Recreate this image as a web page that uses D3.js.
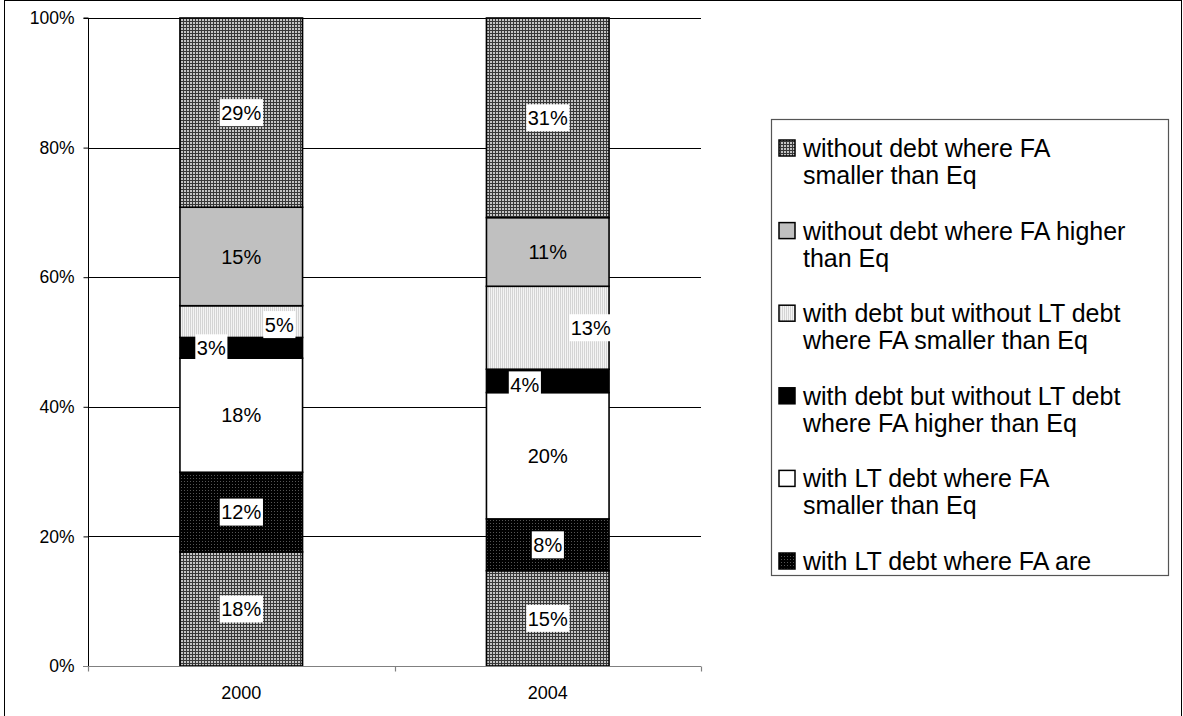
<!DOCTYPE html>
<html>
<head>
<meta charset="utf-8">
<script src="https://cdn.jsdelivr.net/npm/d3@7"></script>
<style>
  html, body { margin: 0; padding: 0; background: #fff; }
  svg { display: block; font-family: "Liberation Sans", Arial, sans-serif; }
</style>
</head>
<body>
<svg id="chart" width="1183" height="716"></svg>
<script>
// ---------------- data ----------------
const years = ["2000", "2004"];
// series from bottom of the stack to the top
const seriesKeys = ["s1", "s2", "s3", "s4", "s5", "s6", "s7"];
const seriesNames = [
  "other firms",
  "with LT debt where FA are higher than Eq",
  "with LT debt where FA smaller than Eq",
  "with debt but without LT debt where FA higher than Eq",
  "with debt but without LT debt where FA smaller than Eq",
  "without debt where FA higher than Eq",
  "without debt where FA smaller than Eq"
];
const legendLines = [
  ["other", "firms"],
  ["with LT debt where FA are", "higher than Eq"],
  ["with LT debt where FA", "smaller than Eq"],
  ["with debt but without LT debt", "where FA higher than Eq"],
  ["with debt but without LT debt", "where FA smaller than Eq"],
  ["without debt where FA higher", "than Eq"],
  ["without debt where FA", "smaller than Eq"]
];
const values2000 = [0.176, 0.123, 0.176, 0.032, 0.049, 0.152, 0.292];
const values2004 = [0.147, 0.080, 0.195, 0.036, 0.128, 0.106, 0.308];
const yTicks = [0, 0.2, 0.4, 0.6, 0.8, 1.0];

// ---------------- layout / style ----------------
const W = 1183, H = 716;
const plot = { left: 88, right: 701, top: 18, bottom: 666 };
const fills = ["url(#pCheck)", "url(#pBlackDot)", "#ffffff", "#000000", "url(#pLightDot)", "#c0c0c0", "url(#pCheck)"];
const labelBox = [true, true, true, true, true, false, true];
// manual label nudges (px) per series
const labelDx = { s4: [-30, -23], s5: [38, 43] };
const labelDy = { s4: [0, 4], s5: [3, 0] };

const svg = d3.select("#chart");

// patterns
const defs = svg.append("defs");
const pc = defs.append("pattern").attr("id", "pCheck").attr("patternUnits", "userSpaceOnUse")
  .attr("width", 3).attr("height", 3);
pc.append("rect").attr("width", 3).attr("height", 3).attr("fill", "#c4c4c4");
pc.append("rect").attr("width", 1).attr("height", 3).attr("fill", "#383838");
pc.append("rect").attr("width", 3).attr("height", 1).attr("fill", "#383838");

const pb = defs.append("pattern").attr("id", "pBlackDot").attr("patternUnits", "userSpaceOnUse")
  .attr("width", 3).attr("height", 3);
pb.append("rect").attr("width", 3).attr("height", 3).attr("fill", "#000");
pb.append("rect").attr("x", 1).attr("y", 1).attr("width", 1).attr("height", 1).attr("fill", "#555");

const pl = defs.append("pattern").attr("id", "pLightDot").attr("patternUnits", "userSpaceOnUse")
  .attr("width", 2).attr("height", 2);
pl.append("rect").attr("width", 2).attr("height", 2).attr("fill", "#f4f4f4");
pl.append("rect").attr("width", 1).attr("height", 2).attr("fill", "#d4d4d4");

// outer frame
svg.append("rect").attr("x", 4.5).attr("y", 0.5).attr("width", 1177).attr("height", 717)
  .attr("fill", "none").attr("stroke", "#000").attr("stroke-width", 1);

// scales
const x = d3.scaleBand().domain(years).range([plot.left, plot.right])
  .paddingInner(0.6).paddingOuter(0.3);
const y = d3.scaleLinear().domain([0, 1]).range([plot.bottom, plot.top]);

// table
const table = years.map((yr, i) => {
  const row = { year: yr };
  const vals = i === 0 ? values2000 : values2004;
  seriesKeys.forEach((k, j) => row[k] = vals[j]);
  return row;
});
const stacked = d3.stack().keys(seriesKeys).offset(d3.stackOffsetExpand)(table);

// gridlines
svg.append("g").selectAll("line").data(yTicks.filter(t => t > 0)).join("line")
  .attr("x1", plot.left).attr("x2", plot.right)
  .attr("y1", d => Math.round(y(d)) + 0.5).attr("y2", d => Math.round(y(d)) + 0.5)
  .attr("stroke", "#000").attr("stroke-width", 1);

// bars
const gBars = svg.append("g");
stacked.forEach((s, si) => {
  gBars.append("g").selectAll("rect").data(s).join("rect")
    .attr("x", d => x(d.data.year))
    .attr("width", x.bandwidth())
    .attr("y", d => y(d[1]))
    .attr("height", d => y(d[0]) - y(d[1]))
    .attr("fill", fills[si])
    .attr("stroke", "#000").attr("stroke-width", 1.6);
});

// y axis
const yAxis = d3.axisLeft(y).tickValues(yTicks).tickFormat(d3.format(".0%")).tickSize(5).tickPadding(9);
const gy = svg.append("g").attr("transform", `translate(${plot.left + 0.5},0)`).call(yAxis);
gy.select(".domain").attr("stroke", "#000").attr("d", `M-5,${y(1)}H0V${y(0)}`);
gy.selectAll(".tick line").attr("stroke", "#000");
gy.selectAll(".tick text").attr("font-size", 17.5).attr("fill", "#000")
  .attr("font-family", "'Liberation Sans', Arial, sans-serif");

// x axis
const gx = svg.append("g").attr("transform", `translate(0,${plot.bottom + 0.5})`);
gx.append("line").attr("x1", plot.left - 5).attr("x2", plot.right).attr("y1", 0).attr("y2", 0)
  .attr("stroke", "#808080").attr("stroke-width", 1.2);
const bounds = [plot.left, (x(years[0]) + x.bandwidth() + x(years[1])) / 2, plot.right];
gx.selectAll("line.tk").data(bounds).join("line").attr("class", "tk")
  .attr("x1", d => Math.round(d) + 0.5).attr("x2", d => Math.round(d) + 0.5)
  .attr("y1", 0).attr("y2", 5).attr("stroke", "#808080").attr("stroke-width", 1.2);
const xAxis = d3.axisBottom(x).tickSize(0).tickPadding(20);
const gxl = svg.append("g").attr("transform", `translate(0,${plot.bottom})`).call(xAxis);
gxl.select(".domain").remove();
gxl.selectAll(".tick text").attr("font-size", 18).attr("fill", "#000")
  .attr("font-family", "'Liberation Sans', Arial, sans-serif");

// data labels
const fmt = d3.format(".0%");
const gLab = svg.append("g").attr("font-size", 20);
stacked.forEach((s, si) => {
  s.forEach((d, ci) => {
    const raw = d.data[seriesKeys[si]];
    const cx = x(d.data.year) + x.bandwidth() / 2 + ((labelDx[seriesKeys[si]] || [0, 0])[ci]);
    const cy = (y(d[0]) + y(d[1])) / 2 + ((labelDy[seriesKeys[si]] || [0, 0])[ci]);
    const g = gLab.append("g");
    const t = g.append("text").attr("x", cx).attr("y", cy).attr("dy", "0.36em")
      .attr("text-anchor", "middle").attr("fill", "#000").text(fmt(raw));
    if (labelBox[si]) {
      const bb = t.node().getBBox();
      g.insert("rect", "text").attr("x", bb.x - 1.5).attr("y", cy - 13.5)
        .attr("width", bb.width + 3).attr("height", 27).attr("fill", "#fff");
    }
  });
});

// legend
const lg = { left: 771, top: 119, right: 1168, bottom: 575, sym: 16, textX: 803, first: 148, step: 82.6, lineH: 27 };
svg.append("rect").attr("x", lg.left + 0.5).attr("y", lg.top + 0.5)
  .attr("width", lg.right - lg.left).attr("height", lg.bottom - lg.top)
  .attr("fill", "#fff").attr("stroke", "#555").attr("stroke-width", 1.2);
const gLeg = svg.append("g").attr("font-size", 25);
const order = seriesKeys.map((k, i) => i).reverse();
order.forEach((si, idx) => {
  const cy = lg.first + idx * lg.step;
  if (cy + lg.sym / 2 > lg.bottom) return;
  gLeg.append("rect").attr("x", 779).attr("y", cy - lg.sym / 2)
    .attr("width", lg.sym).attr("height", lg.sym)
    .attr("fill", fills[si]).attr("stroke", "#000").attr("stroke-width", 1.5);
  legendLines[si].forEach((line, li) => {
    const ly = cy + li * lg.lineH;
    if (ly + 9 > lg.bottom) return;
    gLeg.append("text").attr("x", lg.textX).attr("y", ly).attr("dy", "0.36em")
      .attr("fill", "#000").text(line);
  });
});
</script>
</body>
</html>
